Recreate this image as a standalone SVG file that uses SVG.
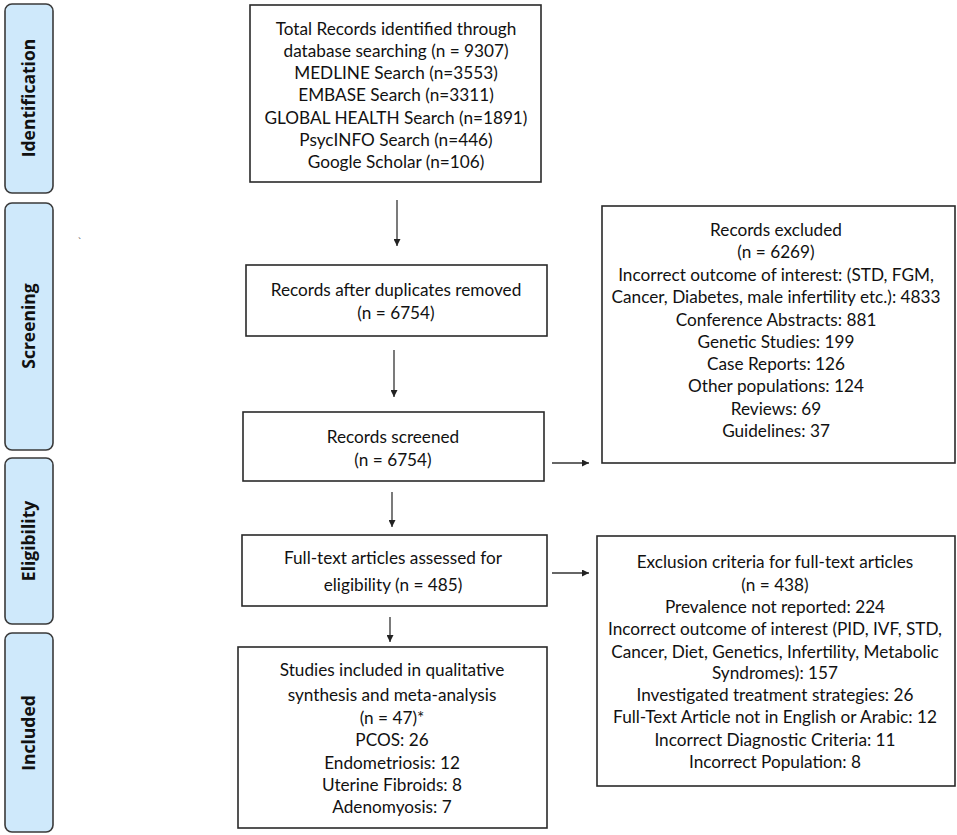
<svg xmlns="http://www.w3.org/2000/svg" width="957" height="835" viewBox="0 0 957 835">
<defs>
<marker id="ah" viewBox="0 0 10 10" refX="10" refY="5" markerWidth="7" markerHeight="7" markerUnits="userSpaceOnUse" orient="auto">
<path d="M0,0 L10,5 L0,10 z" fill="#222"/>
</marker>
<style>
.stage{fill:#cfe9fb;stroke:#3a3a3a;stroke-width:1.6}
.stxt{font-family:"Open Sans","Liberation Sans",sans-serif;font-weight:bold;font-size:17.5px;fill:#111;text-anchor:middle}
.box{fill:#fff;stroke:#2a2a2a;stroke-width:1.6}
.t{font-family:Lato,"Liberation Sans",sans-serif;font-size:17.2px;fill:#111;text-anchor:middle}
.c{stroke:#333;stroke-width:1.3;fill:none;marker-end:url(#ah)}
</style>
</defs>
<rect width="957" height="835" fill="#fff"/>
<g id="stage-identification">
<rect class="stage" x="5" y="4" width="48" height="189" rx="7"/>
<text class="stxt" transform="translate(34.5,98) rotate(-90)">Identification</text>
</g>
<g id="stage-screening">
<rect class="stage" x="5" y="203" width="48" height="247" rx="7"/>
<text class="stxt" transform="translate(34.5,326) rotate(-90)">Screening</text>
</g>
<g id="stage-eligibility">
<rect class="stage" x="5" y="458" width="48" height="166" rx="7"/>
<text class="stxt" transform="translate(34.5,541) rotate(-90)">Eligibility</text>
</g>
<g id="stage-included">
<rect class="stage" x="5" y="633" width="48" height="199" rx="7"/>
<text class="stxt" transform="translate(34.5,733) rotate(-90)">Included</text>
</g>
<text x="78" y="246" style="font-family:'Liberation Sans',sans-serif;font-size:10px;fill:#444">`</text>
<g id="node-identified">
<rect class="box" x="250" y="5" width="291" height="177"/>
<text class="t" x="396" y="35">Total Records identified through</text>
<text class="t" x="396" y="57">database searching (n = 9307)</text>
<text class="t" x="396" y="79">MEDLINE Search (n=3553)</text>
<text class="t" x="396" y="101">EMBASE Search (n=3311)</text>
<text class="t" x="396" y="124">GLOBAL HEALTH Search (n=1891)</text>
<text class="t" x="396" y="146">PsycINFO Search (n=446)</text>
<text class="t" x="396" y="168">Google Scholar (n=106)</text>
</g>
<g id="node-duplicates">
<rect class="box" x="246" y="265" width="301" height="71"/>
<text class="t" x="396" y="296">Records after duplicates removed</text>
<text class="t" x="396" y="319">(n = 6754)</text>
</g>
<g id="node-screened">
<rect class="box" x="243" y="412" width="301" height="69"/>
<text class="t" x="393" y="443">Records screened</text>
<text class="t" x="393" y="466">(n = 6754)</text>
</g>
<g id="node-fulltext">
<rect class="box" x="242" y="535" width="305" height="71"/>
<text class="t" x="393" y="564">Full-text articles assessed for</text>
<text class="t" x="393" y="591">eligibility (n = 485)</text>
</g>
<g id="node-included">
<rect class="box" x="238" y="647" width="309" height="181"/>
<text class="t" x="392" y="676">Studies included in qualitative</text>
<text class="t" x="392" y="701">synthesis and meta-analysis</text>
<text class="t" x="392" y="724">(n = 47)*</text>
<text class="t" x="392" y="746">PCOS: 26</text>
<text class="t" x="392" y="769">Endometriosis: 12</text>
<text class="t" x="392" y="791">Uterine Fibroids: 8</text>
<text class="t" x="392" y="813">Adenomyosis: 7</text>
</g>
<g id="node-excluded">
<rect class="box" x="602" y="206" width="353" height="257"/>
<text class="t" x="776" y="236">Records excluded</text>
<text class="t" x="776" y="258">(n = 6269)</text>
<text class="t" x="776" y="281">Incorrect outcome of interest: (STD, FGM,</text>
<text class="t" x="776" y="303">Cancer, Diabetes, male infertility etc.): 4833</text>
<text class="t" x="776" y="326">Conference Abstracts: 881</text>
<text class="t" x="776" y="348">Genetic Studies: 199</text>
<text class="t" x="776" y="370">Case Reports: 126</text>
<text class="t" x="776" y="392">Other populations: 124</text>
<text class="t" x="776" y="415">Reviews: 69</text>
<text class="t" x="776" y="437">Guidelines: 37</text>
</g>
<g id="node-fulltext-excluded">
<rect class="box" x="597" y="536" width="358" height="250"/>
<text class="t" x="775" y="568">Exclusion criteria for full-text articles</text>
<text class="t" x="775" y="591">(n = 438)</text>
<text class="t" x="775" y="613">Prevalence not reported: 224</text>
<text class="t" x="775" y="635">Incorrect outcome of interest (PID, IVF, STD,</text>
<text class="t" x="775" y="658">Cancer, Diet, Genetics, Infertility, Metabolic</text>
<text class="t" x="775" y="679">Syndromes): 157</text>
<text class="t" x="775" y="701">Investigated treatment strategies: 26</text>
<text class="t" x="775" y="723">Full-Text Article not in English or Arabic: 12</text>
<text class="t" x="775" y="746">Incorrect Diagnostic Criteria: 11</text>
<text class="t" x="775" y="768">Incorrect Population: 8</text>
</g>
<g id="connectors">
<line class="c" x1="397" y1="200" x2="397" y2="246"/>
<line class="c" x1="394" y1="350" x2="394" y2="397"/>
<line class="c" x1="392" y1="492" x2="392" y2="527"/>
<line class="c" x1="390" y1="617" x2="390" y2="642"/>
<line class="c" x1="552" y1="463" x2="589" y2="463"/>
<line class="c" x1="552" y1="573" x2="589" y2="573"/>
</g>
</svg>
